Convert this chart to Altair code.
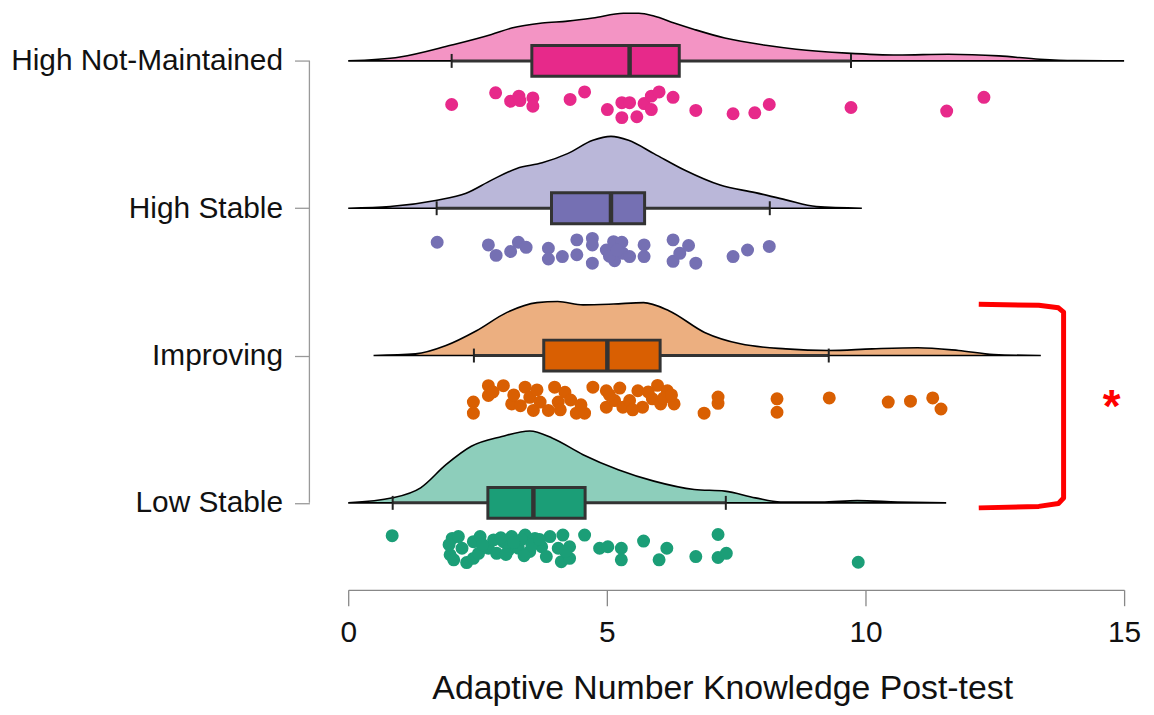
import altair as alt
import pandas as pd

# ---------------- data ----------------
GROUPS = ["High Not-Maintained", "High Stable", "Improving", "Low Stable"]
COLORS = ["#E7298A", "#7570B3", "#D95F02", "#1B9E77"]

# density curves (score, density)
HNM_DX = [0.0, 1.00, 1.98, 2.77, 3.16, 3.75, 4.24, 4.73, 5.32, 5.62, 5.91, 6.30, 6.69, 7.28, 8.07, 8.66, 9.64, 10.62, 11.60, 12.58, 13.37, 14.05, 15.0]
HNM_DY = [0.0, .014, .056, .095, .118, .136, .143, .154, .171, .171, .161, .136, .113, .082, .056, .042, .028, .021, .024, .018, .006, .001, 0.0]
HS_DX = [0.0, 0.81, 1.69, 2.28, 2.77, 3.26, 3.75, 4.24, 4.73, 5.08, 5.42, 5.91, 6.50, 7.19, 7.87, 8.46, 9.05, 9.93]
HS_DY = [0.0, .006, .028, .054, .101, .143, .163, .196, .244, .258, .244, .196, .137, .083, .056, .030, .006, 0.0]
IMP_DX = [0.49, 1.30, 1.89, 2.48, 3.07, 3.65, 4.05, 4.54, 5.13, 5.71, 6.20, 6.89, 7.58, 8.46, 9.29, 10.13, 11.01, 11.80, 12.48, 13.39]
IMP_DY = [0.0, .006, .036, .089, .155, .190, .194, .182, .185, .190, .161, .083, .042, .024, .018, .024, .028, .018, .004, 0.0]
LS_DX = [0.0, 0.86, 1.40, 1.89, 2.38, 2.97, 3.51, 3.95, 4.54, 5.22, 5.91, 6.69, 7.28, 7.87, 8.36, 9.15, 9.84, 10.62, 11.56]
LS_DY = [0.0, .018, .054, .137, .203, .238, .258, .232, .173, .119, .078, .048, .042, .018, .003, .003, .008, .003, 0.0]

# box plot statistics
BOX_LOW = [2.00, 1.71, 2.43, 0.86]
BOX_Q1 = [3.55, 3.93, 3.78, 2.70]
BOX_MED = [5.44, 5.08, 5.01, 3.58]
BOX_Q3 = [6.40, 5.73, 6.03, 4.58]
BOX_HIGH = [9.72, 8.15, 9.29, 7.30]

# raw scores and their jitter (0..1)
HNM_X = [2.00, 2.85, 3.14, 3.30, 3.32, 3.57, 3.57, 4.29, 4.57, 5.01, 5.29, 5.29, 5.44, 5.58, 5.72, 5.86, 5.86, 6.01, 6.28, 6.72, 7.44, 7.86, 8.14, 9.72, 11.57, 12.29]
HNM_J = [.46, .07, .35, .18, .33, .24, .52, .29, .04, .63, .40, .90, .40, .87, .43, .18, .63, .04, .22, .66, .77, .74, .46, .56, .68, .22]
HS_X = [1.72, 2.71, 2.86, 3.14, 3.29, 3.44, 3.87, 3.87, 4.14, 4.42, 4.42, 4.72, 4.72, 4.72, 4.99, 5.13, 5.15, 5.29, 5.31, 5.44, 5.05, 5.20, 5.72, 5.72, 6.28, 6.28, 6.41, 6.58, 6.72, 7.44, 7.72, 8.14]
HS_J = [.14, .23, .58, .45, .14, .31, .34, .70, .62, .06, .56, .01, .23, .84, .40, .12, .76, .14, .51, .62, .61, .41, .23, .62, .06, .78, .51, .25, .84, .62, .40, .28]
IMP_X = [2.42, 2.42, 2.71, 2.71, 3.00, 3.16, 3.33, 3.42, 3.51, 3.58, 3.71, 3.87, 3.99, 4.06, 4.19, 4.41, 4.57, 4.73, 4.99, 4.99, 5.15, 5.31, 5.44, 5.60, 5.69, 5.88, 5.98, 6.04, 6.17, 6.30, 6.88, 7.15, 7.15, 8.29, 8.29, 9.30, 10.44, 10.87, 11.30, 11.46,
         2.80, 3.20, 3.65, 4.10, 4.30, 5.05, 5.25, 5.50, 5.80, 6.10, 6.25, 4.50]
IMP_J = [.56, .93, .01, .34, .01, .62, .68, .06, .40, .84, .56, .84, .06, .56, .23, .93, .93, .06, .18, .73, .51, .73, .51, .18, .73, .45, .0, .62, .18, .62, .93, .60, .39, .45, .90, .42, .56, .53, .42, .79,
         .22, .32, .15, .82, .49, .32, .09, .82, .22, .42, .32, .65]
LS_X = [0.85, 2.01, 2.13, 1.97, 2.04, 2.20, 2.29, 2.42, 2.42, 2.55, 2.52, 2.71, 2.81, 2.87, 3.00, 3.10, 3.16, 3.29, 3.42, 3.51, 3.61, 3.74, 3.83, 3.90, 4.06, 4.12, 4.15, 4.28, 4.28, 4.57, 4.86, 5.02, 5.28, 5.28, 5.71, 6.01, 6.16, 6.72, 7.15, 7.15, 7.31, 9.86,
        2.60, 3.05, 3.35, 3.55, 3.70, 3.40, 2.95, 4.20, 1.95, 3.20]
LS_J = [.10, .19, .13, .74, .91, .52, 1.0, .30, .86, .13, .69, .52, .24, .69, .30, .58, .13, .52, .08, .63, .19, .47, .80, .13, .52, .97, .08, .47, .86, .08, .52, .47, .52, .91, .28, .91, .52, .80, .06, .83, .69, .99,
        .40, .73, .23, .40, .23, .77, .17, .63, .40, .33]

# significance bracket (score, row position) and star
BRACKET_X = [12.19, 13.35, 13.73, 13.83, 13.83, 13.73, 13.35, 12.19]
BRACKET_Y = [2.348, 2.341, 2.324, 2.294, 1.033, 0.996, 0.976, 0.966]
STAR_X = [14.76]
STAR_Y = [1.55]

# ---------------- layout constants ----------------
Y_DOMAIN = [0.41, 4.34]
PLOT_H = 582
PX_PER_UNIT = PLOT_H / (Y_DOMAIN[1] - Y_DOMAIN[0])
DENS_SCALE = 280 / PX_PER_UNIT          # density -> row units
BOX_HALF = 15.5 / PX_PER_UNIT
CAP_HALF = 7 / PX_PER_UNIT
JIT_BASE = 30 / PX_PER_UNIT
JIT_SPAN = 30 / PX_PER_UNIT
FONT = "Liberation Sans"

pos = {g: 4 - i for i, g in enumerate(GROUPS)}

dens_rows = []
for g, xs, ys in zip(GROUPS, [HNM_DX, HS_DX, IMP_DX, LS_DX], [HNM_DY, HS_DY, IMP_DY, LS_DY]):
    for x, d in zip(xs, ys):
        dens_rows.append({"group": g, "x": x, "top": pos[g] + d * DENS_SCALE, "base": pos[g]})
dens_df = pd.DataFrame(dens_rows)

box_df = pd.DataFrame({
    "group": GROUPS, "lo": BOX_LOW, "q1": BOX_Q1, "med": BOX_MED, "q3": BOX_Q3, "hi": BOX_HIGH,
    "pos": [pos[g] for g in GROUPS],
})
box_df["b0"] = box_df["pos"] - BOX_HALF
box_df["b1"] = box_df["pos"] + BOX_HALF

cap_rows = []
for g, lo, hi in zip(GROUPS, BOX_LOW, BOX_HIGH):
    for v in (lo, hi):
        cap_rows.append({"group": g, "x": v, "c0": pos[g] - CAP_HALF, "c1": pos[g] + CAP_HALF})
cap_df = pd.DataFrame(cap_rows)

pt_rows = []
for g, xs, js in zip(GROUPS, [HNM_X, HS_X, IMP_X, LS_X], [HNM_J, HS_J, IMP_J, LS_J]):
    for x, j in zip(xs, js):
        pt_rows.append({"group": g, "x": x, "y": pos[g] - JIT_BASE - j * JIT_SPAN})
pt_df = pd.DataFrame(pt_rows)

axis_line_df = pd.DataFrame({"y": [min(pos.values())], "y2": [max(pos.values())]})
bracket_df = pd.DataFrame({"x": BRACKET_X, "y": BRACKET_Y, "o": list(range(len(BRACKET_X)))})
star_df = pd.DataFrame({"x": STAR_X, "y": STAR_Y, "t": ["*"]})

label_expr = " : ".join(
    [f"datum.value == {pos[g]} ? '{g}'" for g in GROUPS]
) + " : ''"

x_scale = alt.Scale(domain=[0, 15], nice=False, zero=False)
y_scale = alt.Scale(domain=Y_DOMAIN, nice=False, zero=False)
x_axis = alt.Axis(values=[0, 5, 10, 15], grid=False, tickSize=16, tickColor="#888888", tickWidth=1.3,
                  domainColor="#888888", domainWidth=1.3, labelFontSize=30, labelFont=FONT,
                  labelColor="#111111", labelPadding=12, labelFlush=False,
                  title="Adaptive Number Knowledge Post-test", titleFontSize=34, titleFont=FONT,
                  titleFontWeight="normal", titleColor="#111111", titlePadding=24, titleX=376,
                  titleAlign="center")
y_axis = alt.Axis(values=[1, 2, 3, 4], labelExpr=label_expr, domain=False, grid=False, offset=39,
                  tickSize=15, tickColor="#999999", tickWidth=1.3, labelFontSize=30, labelFont=FONT,
                  labelColor="#111111", labelPadding=12, labelLimit=0, title=None)

fill_enc = alt.Fill("group:N", scale=alt.Scale(domain=GROUPS, range=COLORS), legend=None)

density = alt.Chart(dens_df).mark_area(
    interpolate="monotone", fillOpacity=0.5, stroke="black", strokeWidth=1.6
).encode(
    x=alt.X("x:Q", scale=x_scale, axis=x_axis),
    y=alt.Y("top:Q", scale=y_scale, axis=y_axis, stack=None),
    y2="base:Q",
    fill=fill_enc,
    detail="group:N",
)

whisker = alt.Chart(box_df).mark_rule(color="#333333", strokeWidth=3).encode(
    x=alt.X("lo:Q", scale=x_scale, axis=x_axis), x2="hi:Q",
    y=alt.Y("pos:Q", scale=y_scale, axis=y_axis),
)

caps = alt.Chart(cap_df).mark_rule(color="#222222", strokeWidth=2).encode(
    x=alt.X("x:Q", scale=x_scale, axis=x_axis),
    y=alt.Y("c0:Q", scale=y_scale, axis=y_axis), y2="c1:Q",
)

boxes = alt.Chart(box_df).mark_bar(stroke="#333333", strokeWidth=3, opacity=1).encode(
    x=alt.X("q1:Q", scale=x_scale, axis=x_axis), x2="q3:Q",
    y=alt.Y("b0:Q", scale=y_scale, axis=y_axis), y2="b1:Q",
    fill=fill_enc,
)

medians = alt.Chart(box_df).mark_rule(color="#333333", strokeWidth=4.5).encode(
    x=alt.X("med:Q", scale=x_scale, axis=x_axis),
    y=alt.Y("b0:Q", scale=y_scale, axis=y_axis), y2="b1:Q",
)

points = alt.Chart(pt_df).mark_circle(size=170, opacity=1).encode(
    x=alt.X("x:Q", scale=x_scale, axis=x_axis),
    y=alt.Y("y:Q", scale=y_scale, axis=y_axis),
    fill=fill_enc,
)

yline = alt.Chart(axis_line_df).mark_rule(color="#999999", strokeWidth=1.3).encode(
    x=alt.value(-39),
    y=alt.Y("y:Q", scale=y_scale, axis=y_axis), y2="y2:Q",
)

bracket = alt.Chart(bracket_df).mark_line(color="#FF0000", strokeWidth=5, strokeJoin="round").encode(
    x=alt.X("x:Q", scale=x_scale, axis=x_axis),
    y=alt.Y("y:Q", scale=y_scale, axis=y_axis),
    order="o:Q",
)

star = alt.Chart(star_df).mark_text(color="#FF0000", fontSize=46, fontWeight="bold", font=FONT,
                                    align="center", baseline="alphabetic").encode(
    x=alt.X("x:Q", scale=x_scale, axis=x_axis),
    y=alt.Y("y:Q", scale=y_scale, axis=y_axis),
    text="t:N",
)

chart = alt.layer(density, whisker, caps, boxes, medians, points, yline, bracket, star).properties(
    width=780, height=PLOT_H,
    padding={"left": 2, "top": 0, "right": 5, "bottom": 0},
).configure(background="white").configure_view(stroke=None)

chart.save("out.html", embed_options={"renderer": "svg", "actions": False})
